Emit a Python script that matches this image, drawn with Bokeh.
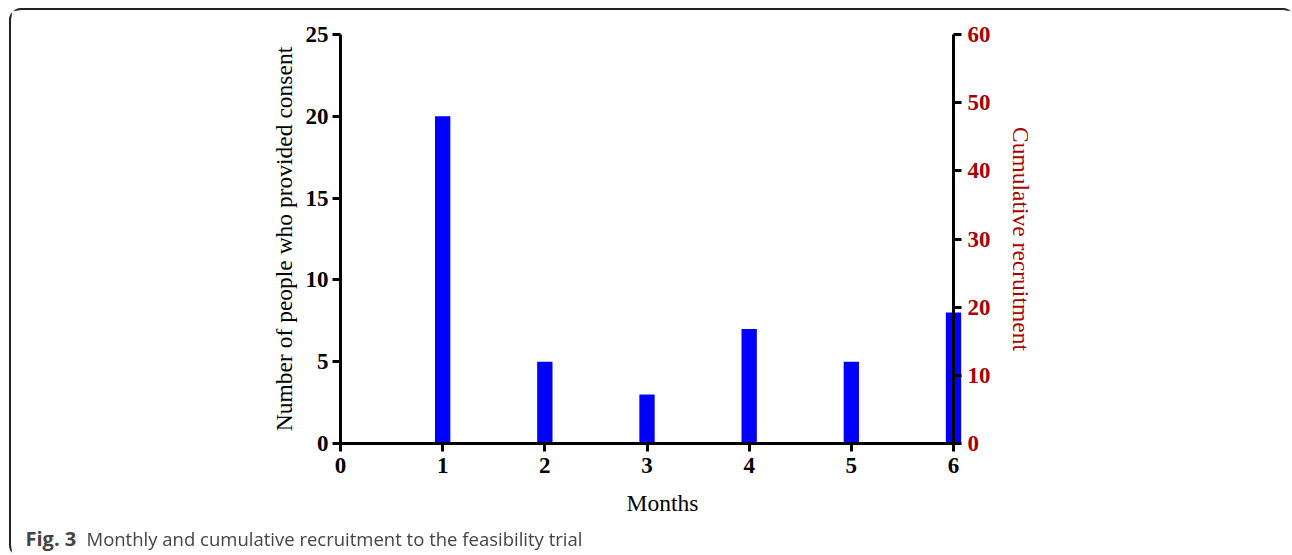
from bokeh.plotting import figure
from bokeh.models import Range1d, FixedTicker, Label, GridBox
from bokeh.embed import file_html
from bokeh.resources import INLINE

# Monthly recruitment (people who provided consent)
months = [1, 2, 3, 4, 5, 6]
consented = [20, 5, 3, 7, 5, 8]

left_ticks = [0, 5, 10, 15, 20, 25]
right_ticks = [0, 10, 20, 30, 40, 50, 60]
month_ticks = [0, 1, 2, 3, 4, 5, 6]

RED = "#A80000"
SERIF = "Liberation Serif"
SANS = "Open Sans"

# Panel placement on the page (rounded border box)
PX, PY, BW = 9, 8, 2
W, H = 1282, 545
IX, IY = PX + BW, PY + BW          # inner origin of the panel

# Chart frame in page pixels
FL, FT, FB = 340, 34, 443           # left, top, bottom of the plotting area
AXIS6 = 953                         # x position of month 6 / right axis
PX_PER_MONTH = (AXIS6 - FL) / 6
FR = 984                            # right edge of the bar layer
CAPTION_BASELINE = 538
common = dict(width=W, height=H, output_backend="svg", toolbar_location=None,
              frame_align=False,
              min_border_left=FL - IX, min_border_top=FT - IY,
              min_border_bottom=IY + H - FB)


def style_axis(ax, color="black"):
    ax.axis_line_width = 3
    ax.axis_line_color = "black"
    ax.major_tick_line_width = 3
    ax.major_tick_line_color = "black"
    ax.major_tick_out = 8
    ax.major_tick_in = 0
    ax.minor_tick_line_color = None
    ax.major_label_text_font = SERIF
    ax.major_label_text_font_style = "bold"
    ax.major_label_text_font_size = "23px"
    ax.major_label_text_color = color
    ax.axis_label_text_font = SERIF
    ax.axis_label_text_font_style = "normal"
    ax.axis_label_text_font_size = "23.5px"
    ax.axis_label_text_color = color


# Bars with the month axis and the consent axis
p = figure(x_range=Range1d(0, (FR - FL) / PX_PER_MONTH), y_range=Range1d(0, 25),
           min_border_right=IX + W - FR, **common)
p.outline_line_color = None
p.grid.visible = False
p.background_fill_color = "white"
p.border_fill_color = "white"
p.vbar(x=months, top=consented, width=0.15, fill_color="#0000FF", line_color=None)

xa = p.xaxis[0]
style_axis(xa)
xa.ticker = FixedTicker(ticks=month_ticks)
xa.bounds = (0, 6)
xa.axis_label = "Months"
xa.major_label_standoff = 6
xa.axis_label_standoff = 14

ya = p.yaxis[0]
style_axis(ya)
ya.ticker = FixedTicker(ticks=left_ticks)
ya.axis_label = "Number of people who provided consent"
ya.major_label_standoff = 4
ya.axis_label_standoff = 6

# Cumulative recruitment axis, sitting on month 6
q = figure(x_range=Range1d(0, 6), y_range=Range1d(0, 60), x_axis_type=None,
           y_axis_location="right", min_border_right=IX + W - AXIS6, **common)
q.outline_line_color = None
q.grid.visible = False
q.background_fill_color = None
q.border_fill_color = None
ra = q.yaxis[0]
style_axis(ra, RED)
ra.ticker = FixedTicker(ticks=right_ticks)
ra.axis_label = "Cumulative recruitment"
ra.major_label_standoff = 6
ra.axis_label_standoff = 14

# Caption layer covering the whole panel
c = figure(width=W, height=H, output_backend="svg", toolbar_location=None,
           frame_align=False,
           x_range=Range1d(0, W), y_range=Range1d(0, H),
           x_axis_type=None, y_axis_type=None, min_border=0)
c.outline_line_color = None
c.grid.visible = False
c.background_fill_color = None
c.border_fill_color = None
cap_base = IY + H - CAPTION_BASELINE
c.add_layout(Label(x=25 - IX, y=cap_base, text="Fig. 3", text_font=SANS,
                   text_font_style="bold", text_font_size="20px",
                   text_baseline="alphabetic"))
c.add_layout(Label(x=86 - IX, y=cap_base,
                   text="Monthly and cumulative recruitment to the feasibility trial",
                   text_font=SANS, text_font_size="18.5px", text_baseline="alphabetic"))

panel = GridBox(children=[(p, 0, 0), (q, 0, 0), (c, 0, 0)],
                styles={"position": "fixed", "left": f"{PX}px", "top": f"{PY}px",
                        "border": f"{BW}px solid #222222", "border-radius": "12px",
                        "background-color": "white"})

open("out.html", "w").write(file_html(panel, INLINE))
